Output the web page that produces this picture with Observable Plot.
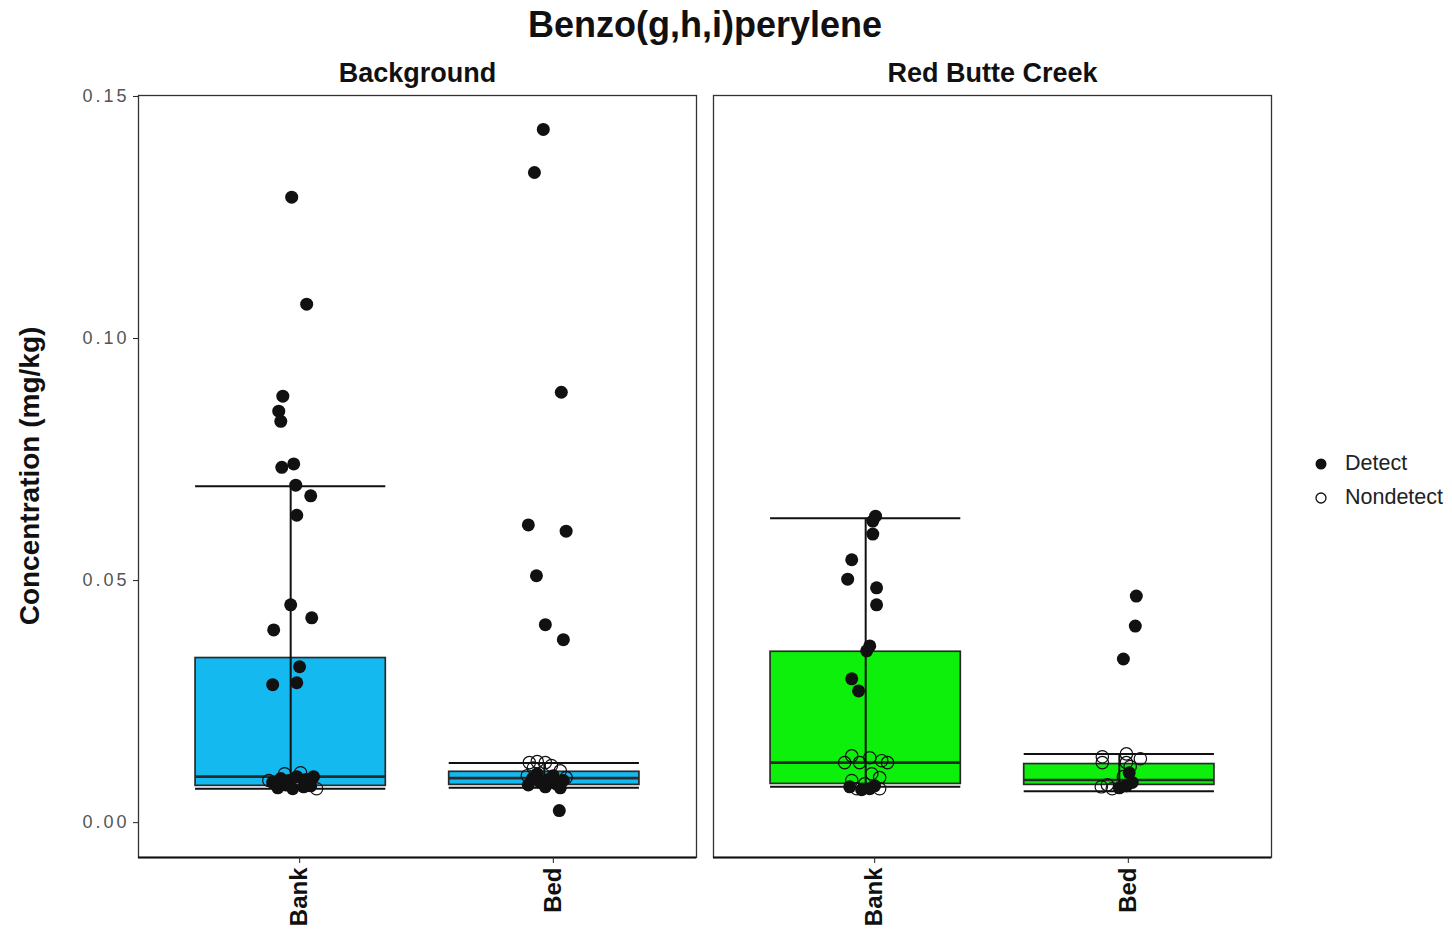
<!DOCTYPE html>
<html>
<head>
<meta charset="utf-8">
<script src="https://cdn.jsdelivr.net/npm/d3@7"></script>
<script src="https://cdn.jsdelivr.net/npm/@observablehq/plot@0.6"></script>
<style>
  body { margin: 0; background: #fff; font-family: "Liberation Sans", Arial, sans-serif; }
  #wrap { position: relative; width: 1452px; height: 931px; overflow: hidden; }
  #chart { position: absolute; left: 0; top: 0; }
  .abs { position: absolute; white-space: nowrap; color: #111; }
</style>
</head>
<body>
<div id="wrap">
  <div id="chart"></div>
  <div class="abs" id="title" style="left:705px; top:25px; transform:translate(-50%,-50%); font-weight:bold; font-size:36px;">Benzo(g,h,i)perylene</div>
  <div class="abs" id="ylab" style="left:30px; top:476px; transform:translate(-50%,-50%) rotate(-90deg); font-weight:bold; font-size:28px;">Concentration (mg/kg)</div>
  <div id="legend"></div>
</div>
<script>
// ---------- data ----------
const panels = ["Background", "Red Butte Creek"];
const categories = ["Bank", "Bed"];
const panelColors = ["#14b9f0", "#0cf00c"];
const yTicks = [0, 0.05, 0.10, 0.15];
const legendLabels = ["Detect", "Nondetect"];

// box statistics, order: Background-Bank, Background-Bed, RedButte-Bank, RedButte-Bed
const boxPanel    = ["Background", "Background", "Red Butte Creek", "Red Butte Creek"];
const boxCategory = ["Bank", "Bed", "Bank", "Bed"];
const whiskerHigh = [0.0695, 0.0123, 0.0629, 0.0142];
const q3          = [0.0340, 0.0105, 0.0353, 0.0121];
const median      = [0.0095, 0.0092, 0.0124, 0.0088];
const q1          = [0.0076, 0.0078, 0.0080, 0.0078];
const whiskerLow  = [0.0070, 0.0072, 0.0074, 0.0065];

// points (mg/kg) and horizontal jitter (category units)
const bgBankDetect = [0.1292,0.1071,0.0881,0.0850,0.0829,0.0734,0.0741,0.0697,0.0675,0.0635,0.0450,0.0423,0.0398,0.0322,0.0285,0.0289,0.0083,0.0091,0.0087,0.0095,0.0089,0.0095,0.0072,0.0070,0.0074,0.0078,0.0076];
const bgBankDetectJit = [0.004,0.063,-0.031,-0.047,-0.039,-0.035,0.012,0.020,0.079,0.024,0.000,0.083,-0.067,0.035,-0.071,0.024,-0.071,-0.039,-0.008,0.024,0.059,0.090,-0.051,0.008,0.051,-0.020,0.079];
const bgBankNondetect = [0.0087,0.0103,0.0070,0.0101];
const bgBankNondetectJit = [-0.086,0.039,0.102,-0.024];

const bgBedDetect = [0.1432,0.1343,0.0889,0.0615,0.0602,0.0510,0.0409,0.0378,0.0025,0.0091,0.0083,0.0089,0.0080,0.0087,0.0078,0.0074,0.0097,0.0101,0.0072];
const bgBedDetectJit = [-0.004,-0.039,0.067,-0.063,0.086,-0.031,0.004,0.075,0.059,-0.047,-0.016,0.016,0.047,0.075,-0.063,0.004,0.035,-0.028,0.063];
const bgBedNondetect = [0.0124,0.0126,0.0124,0.0113,0.0118,0.0107,0.0093,0.0097];
const bgBedNondetectJit = [-0.059,-0.028,0.004,-0.043,0.028,0.063,0.086,-0.067];

const rbBankDetect = [0.0633,0.0623,0.0596,0.0543,0.0503,0.0485,0.0450,0.0365,0.0355,0.0297,0.0272,0.0068,0.0070,0.0076,0.0074];
const rbBankDetectJit = [0.039,0.028,0.028,-0.055,-0.071,0.043,0.043,0.016,0.004,-0.055,-0.028,-0.016,0.016,0.035,-0.063];
const rbBankNondetect = [0.0138,0.0124,0.0124,0.0134,0.0128,0.0124,0.0087,0.0101,0.0093,0.0070,0.0070,0.0080];
const rbBankNondetectJit = [-0.055,-0.083,-0.024,0.016,0.063,0.086,-0.055,0.024,0.055,-0.035,0.055,-0.004];

const rbBedDetect = [0.0468,0.0406,0.0338,0.0076,0.0083,0.0072,0.0103];
const rbBedDetectJit = [0.067,0.063,0.016,0.028,0.051,0.000,0.039];
const rbBedNondetect = [0.0136,0.0124,0.0142,0.0124,0.0132,0.0116,0.0074,0.0070,0.0078,0.0095];
const rbBedNondetectJit = [-0.067,-0.067,0.028,0.028,0.083,0.043,-0.071,-0.028,-0.047,0.016];

// ---------- build tables ----------
const catPos = c => categories.indexOf(c) + 1;
const boxes = boxPanel.map((p, i) => ({
  panel: p, pos: catPos(boxCategory[i]),
  hi: whiskerHigh[i], q3: q3[i], med: median[i], q1: q1[i], lo: whiskerLow[i]
}));
function pts(panel, cat, vals, jit, status) {
  return vals.map((v, i) => ({panel, status, value: v, x: catPos(cat) + jit[i]}));
}
const points = [
  ...pts("Background", "Bank", bgBankDetect, bgBankDetectJit, "Detect"),
  ...pts("Background", "Bank", bgBankNondetect, bgBankNondetectJit, "Nondetect"),
  ...pts("Background", "Bed", bgBedDetect, bgBedDetectJit, "Detect"),
  ...pts("Background", "Bed", bgBedNondetect, bgBedNondetectJit, "Nondetect"),
  ...pts("Red Butte Creek", "Bank", rbBankDetect, rbBankDetectJit, "Detect"),
  ...pts("Red Butte Creek", "Bank", rbBankNondetect, rbBankNondetectJit, "Nondetect"),
  ...pts("Red Butte Creek", "Bed", rbBedDetect, rbBedDetectJit, "Detect"),
  ...pts("Red Butte Creek", "Bed", rbBedNondetect, rbBedNondetectJit, "Nondetect")
];
const detect = points.filter(d => d.status === "Detect");
const nondetect = points.filter(d => d.status === "Nondetect");

const half = 0.375;
const yMin = -0.0072, yMax = 0.1502;

const chart = Plot.plot({
  width: 1452, height: 931,
  marginTop: 95, marginBottom: 74, marginLeft: 137, marginRight: 180,
  style: {fontFamily: "Liberation Sans, Arial, sans-serif", background: "white"},
  fx: {domain: panels, paddingInner: 0.0295, paddingOuter: 0, label: null},
  x: {domain: [0.4, 2.6], label: null},
  y: {domain: [yMin, yMax], label: null},
  color: {domain: panels, range: panelColors},
  marks: [
    Plot.rect(boxes, {fx: "panel", x1: d => d.pos - half, x2: d => d.pos + half, y1: "q1", y2: "q3",
      fill: "panel", stroke: "#2a2a2a", strokeWidth: 1.7}),
    Plot.ruleY(boxes, {fx: "panel", y: "med", x1: d => d.pos - half, x2: d => d.pos + half, stroke: "#2a2a2a", strokeWidth: 2.6}),
    Plot.ruleX(boxes, {fx: "panel", x: "pos", y1: "lo", y2: "hi", stroke: "#111", strokeWidth: 2}),
    Plot.ruleY(boxes, {fx: "panel", y: "hi", x1: d => d.pos - half, x2: d => d.pos + half, stroke: "#111", strokeWidth: 2}),
    Plot.ruleY(boxes, {fx: "panel", y: "lo", x1: d => d.pos - half, x2: d => d.pos + half, stroke: "#111", strokeWidth: 2}),
    Plot.dot(nondetect, {fx: "panel", x: "x", y: "value", r: 6.2, fill: "none", stroke: "#111", strokeWidth: 1.2}),
    Plot.dot(detect, {fx: "panel", x: "x", y: "value", r: 6.5, fill: "#111", stroke: "none"}),
    Plot.frame({stroke: "#333", strokeWidth: 1.3}),
    Plot.ruleY([yMin], {stroke: "#111", strokeWidth: 2}),
    Plot.axisFx({anchor: "top", tickSize: 0, tickPadding: 14, fontSize: 27, fontWeight: "bold", label: null, fill: "#111"}),
    Plot.axisY({ticks: yTicks, tickFormat: d3.format(".2f"), fontSize: 18, tickSize: 5, tickPadding: 4, label: null, fill: "#555", stroke: "#222"}),
    Plot.axisX({ticks: [1, 2], tickFormat: d => categories[d - 1], tickRotate: -90, fontSize: 24, fontWeight: "bold",
      tickSize: 6, tickPadding: 4, dx: 9, label: null, fill: "#111", stroke: "#222"})
  ]
});
document.getElementById("chart").appendChild(chart);
d3.select(chart).selectAll('g[aria-label="y-axis tick label"] text').style("letter-spacing", "3px");

// legend
const legend = document.getElementById("legend");
legendLabels.forEach((lab, i) => {
  const y = 463 + i * 34;
  const item = document.createElement("div");
  item.className = "abs";
  item.style.left = "1313px";
  item.style.top = (y - 12) + "px";
  item.style.fontSize = "21.5px";
  item.style.color = "#222";
  item.style.display = "flex";
  item.style.alignItems = "center";
  const sw = i === 0
    ? '<svg width="18" height="24"><circle cx="8" cy="12" r="5.5" fill="#111"/></svg>'
    : '<svg width="18" height="24"><circle cx="8" cy="12" r="5" fill="none" stroke="#111" stroke-width="1.3"/></svg>';
  item.innerHTML = sw + '<span style="margin-left:14px">' + lab + '</span>';
  legend.appendChild(item);
});
</script>
</body>
</html>
